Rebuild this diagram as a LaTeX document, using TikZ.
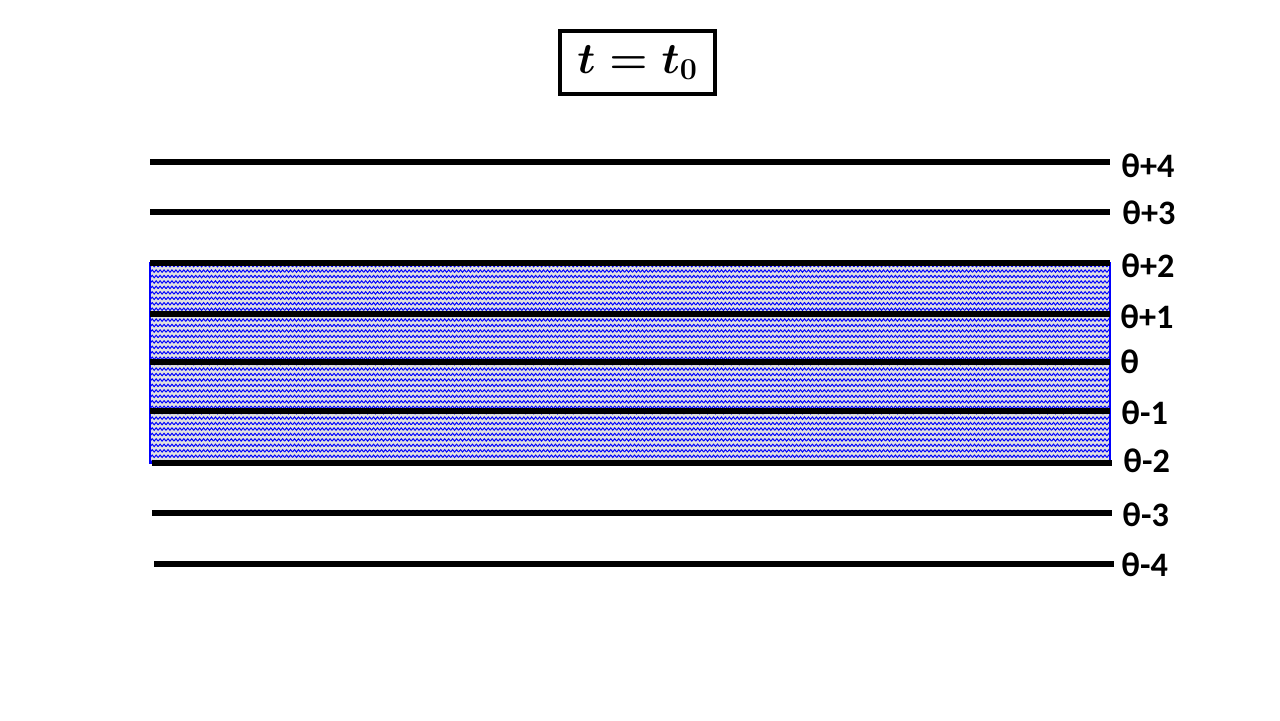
\documentclass[tikz,border=0pt]{standalone}
\usepackage{fontspec}
\setmainfont{Carlito}
\usepackage{amsmath}
\usetikzlibrary{patterns}

\pgfdeclarepatternformonly{wavy}{\pgfqpoint{-1pt}{-1pt}}{\pgfqpoint{6pt}{4pt}}{\pgfqpoint{4.5pt}{3.1pt}}{
  \pgfsetlinewidth{0.55pt}
  \pgfpathmoveto{\pgfqpoint{0pt}{0.6pt}}
  \pgfpathlineto{\pgfqpoint{1.125pt}{2pt}}
  \pgfpathlineto{\pgfqpoint{2.25pt}{0.6pt}}
  \pgfpathlineto{\pgfqpoint{3.375pt}{2pt}}
  \pgfpathlineto{\pgfqpoint{4.5pt}{0.6pt}}
  \pgfusepath{stroke}
}

\tikzset{
  level/.style={line width=3.4pt, black},
  lab/.style={anchor=west, font=\bfseries\fontsize{19.5}{22}\selectfont, inner sep=0pt},
}

\begin{document}
\begin{tikzpicture}[x={(0.02cm,0)},y={(0,-0.02cm)}]
        \useasboundingbox (0,0) rectangle (1280,720);

        % band around theta
        \fill[black!12!white] (150,263) rectangle (1110,463);
        \fill[pattern=wavy, pattern color=blue] (150,263) rectangle (1110,463);
        \draw[blue, line width=0.6pt] (150,263) rectangle (1110,463);

        \node[draw, line width=1.8pt, minimum width=3.1cm, minimum height=1.26cm, inner sep=0pt,
              font=\fontsize{26}{30}\selectfont\mathversion{bold}](title) at (637.5,62.5){$t=t_0$};

        \node[lab](L4) at (1121,166){θ+4};
        \node[lab](L3) at (1122,213){θ+3};
        \node[lab](L2) at (1121,266){θ+2};
        \node[lab](L1) at (1120,317){θ+1};
        \node[lab](L0) at (1120,362){θ};
        \node[lab](M1) at (1121,413){θ-1};
        \node[lab](M2) at (1123,461){θ-2};
        \node[lab](M3) at (1122,515){θ-3};
        \node[lab](M4) at (1121,565){θ-4};

        \coordinate (a4) at (150,162);  \coordinate (e4) at (1110,162);
        \coordinate (a3) at (150,212);  \coordinate (e3) at (1110,212);
        \coordinate (a2) at (150,263);  \coordinate (e2) at (1110,263);
        \coordinate (a1) at (150,314);  \coordinate (e1) at (1110,314);
        \coordinate (a0) at (150,362);  \coordinate (e0) at (1110,362);
        \coordinate (b1) at (150,411);  \coordinate (f1) at (1110,411);
        \coordinate (b2) at (152,463);  \coordinate (f2) at (1112,463);
        \coordinate (b3) at (152,513);  \coordinate (f3) at (1112,513);
        \coordinate (b4) at (154,564);  \coordinate (f4) at (1114,564);

        \draw[level] (a4) -- (e4);
        \draw[level] (a3) -- (e3);
        \draw[level] (a2) -- (e2);
        \draw[level] (a1) -- (e1);
        \draw[level] (a0) -- (e0);
        \draw[level] (b1) -- (f1);
        \draw[level] (b2) -- (f2);
        \draw[level] (b3) -- (f3);
        \draw[level] (b4) -- (f4);

      \end{tikzpicture}
\end{document}
